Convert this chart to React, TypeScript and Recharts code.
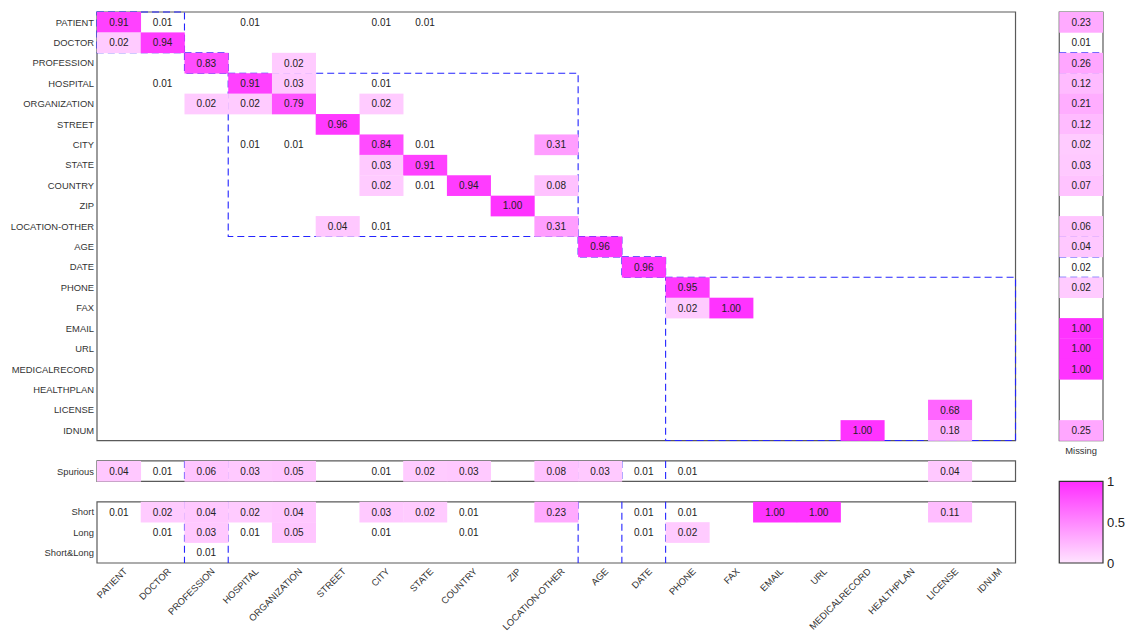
import React from 'react';
import { ScatterChart, Scatter, XAxis, YAxis, ReferenceArea, ReferenceLine, ReferenceDot } from 'recharts';

const categories = ['PATIENT', 'DOCTOR', 'PROFESSION', 'HOSPITAL', 'ORGANIZATION', 'STREET', 'CITY', 'STATE', 'COUNTRY', 'ZIP', 'LOCATION-OTHER', 'AGE', 'DATE', 'PHONE', 'FAX', 'EMAIL', 'URL', 'MEDICALRECORD', 'HEALTHPLAN', 'LICENSE', 'IDNUM'];

// [true category, predicted category, fraction]
const confusion: [string, string, number][] = [
  ['PATIENT', 'PATIENT', 0.91], ['PATIENT', 'DOCTOR', 0.01], ['PATIENT', 'HOSPITAL', 0.01], ['PATIENT', 'CITY', 0.01], ['PATIENT', 'STATE', 0.01],
  ['DOCTOR', 'PATIENT', 0.02], ['DOCTOR', 'DOCTOR', 0.94],
  ['PROFESSION', 'PROFESSION', 0.83], ['PROFESSION', 'ORGANIZATION', 0.02],
  ['HOSPITAL', 'DOCTOR', 0.01], ['HOSPITAL', 'HOSPITAL', 0.91], ['HOSPITAL', 'ORGANIZATION', 0.03], ['HOSPITAL', 'CITY', 0.01],
  ['ORGANIZATION', 'PROFESSION', 0.02], ['ORGANIZATION', 'HOSPITAL', 0.02], ['ORGANIZATION', 'ORGANIZATION', 0.79], ['ORGANIZATION', 'CITY', 0.02],
  ['STREET', 'STREET', 0.96],
  ['CITY', 'HOSPITAL', 0.01], ['CITY', 'ORGANIZATION', 0.01], ['CITY', 'CITY', 0.84], ['CITY', 'STATE', 0.01], ['CITY', 'LOCATION-OTHER', 0.31],
  ['STATE', 'CITY', 0.03], ['STATE', 'STATE', 0.91],
  ['COUNTRY', 'CITY', 0.02], ['COUNTRY', 'STATE', 0.01], ['COUNTRY', 'COUNTRY', 0.94], ['COUNTRY', 'LOCATION-OTHER', 0.08],
  ['ZIP', 'ZIP', 1.0],
  ['LOCATION-OTHER', 'STREET', 0.04], ['LOCATION-OTHER', 'CITY', 0.01], ['LOCATION-OTHER', 'LOCATION-OTHER', 0.31],
  ['AGE', 'AGE', 0.96],
  ['DATE', 'DATE', 0.96],
  ['PHONE', 'PHONE', 0.95],
  ['FAX', 'PHONE', 0.02], ['FAX', 'FAX', 1.0],
  ['LICENSE', 'LICENSE', 0.68],
  ['IDNUM', 'MEDICALRECORD', 1.0], ['IDNUM', 'LICENSE', 0.18],
];

const missing = [0.23, 0.01, 0.26, 0.12, 0.21, 0.12, 0.02, 0.03, 0.07, 0, 0.06, 0.04, 0.0155, 0.02, 0, 1.0, 1.0, 1.0, 0, 0, 0.25];
const spurious = [0.04, 0.01, 0.06, 0.03, 0.05, 0, 0.01, 0.02, 0.03, 0, 0.08, 0.03, 0.01, 0.01, 0, 0, 0, 0, 0, 0.04, 0];
const shortMatch = [0.01, 0.02, 0.04, 0.02, 0.04, 0, 0.03, 0.02, 0.01, 0, 0.23, 0, 0.01, 0.01, 0, 1.0, 1.0, 0, 0, 0.11, 0];
const longMatch = [0, 0.01, 0.03, 0.01, 0.05, 0, 0.01, 0, 0.01, 0, 0, 0, 0.01, 0.02, 0, 0, 0, 0, 0, 0, 0];
const shortLongMatch = [0, 0, 0.01, 0, 0, 0, 0, 0, 0, 0, 0, 0, 0, 0, 0, 0, 0, 0, 0, 0, 0];

const blockSizes = [2, 1, 8, 1, 1, 8];
const colorbarTicks = [0, 0.5, 1];
const bottomRowLabels = ['Spurious', 'Short', 'Long', 'Short&Long'];

// layout (grid units)
const N = categories.length; // 21
const MISSING_X = N + 1.5;
const SPUR_Y = N + 1.5;
const SHORT_Y = N + 3.5;
const Y_MAX = N + 6;
const X_MAX = N + 2;

const W = 1134;
const H = 635;
const M = { top: 12, right: 31, left: 0, bottom: 0 };
const YAXIS_W = 97;
const XAXIS_H = 72;
const CELL_W = (W - M.right - YAXIS_W) / X_MAX;
const CELL_H = (H - M.top - XAXIS_H) / Y_MAX;

const BLUE = '#2424ff';
const FRAME = '#5a5a5a';
const FONT = '"Liberation Sans", Arial, Helvetica, sans-serif';

function cellColor(v: number) {
  if (v < 1 / 64) return null;
  const g = Math.round(206 - 155 * v);
  return `rgb(255,${g},255)`;
}

type Pt = { x: number; y: number; v: number };

const mainData: Pt[] = confusion.map(([r, c, v]) => ({ x: categories.indexOf(c) + 0.5, y: categories.indexOf(r) + 0.5, v }));
const missingData: Pt[] = missing.map((v, i) => ({ x: MISSING_X, y: i + 0.5, v })).filter((d) => d.v > 0);
const rowData = (arr: number[], y: number): Pt[] => arr.map((v, i) => ({ x: i + 0.5, y, v })).filter((d) => d.v > 0);
const spuriousData = rowData(spurious, SPUR_Y);
const shortData = [...rowData(shortMatch, SHORT_Y), ...rowData(longMatch, SHORT_Y + 1), ...rowData(shortLongMatch, SHORT_Y + 2)];

const blocks: [number, number][] = [];
{
  let s = 0;
  for (const b of blockSizes) {
    blocks.push([s, s + b]);
    s += b;
  }
}

const CellShape = (props: any) => {
  const { cx, cy, payload } = props;
  if (cx == null || cy == null || !payload) return null;
  const fill = cellColor(payload.v);
  return (
    <g>
      {fill && <rect x={cx - CELL_W / 2} y={cy - CELL_H / 2} width={CELL_W + 0.3} height={CELL_H + 0.3} fill={fill} />}
      <text x={cx} y={cy} dy="0.36em" textAnchor="middle" fontSize={10} fill="#222" fontFamily={FONT}>
        {payload.v.toFixed(2)}
      </text>
    </g>
  );
};

const yTicks = [...categories.map((_, i) => i + 0.5), SPUR_Y, SHORT_Y, SHORT_Y + 1, SHORT_Y + 2];
const yLabel = (v: number) => {
  if (v < N) return categories[Math.floor(v)];
  if (v === SPUR_Y) return bottomRowLabels[0];
  return bottomRowLabels[1 + Math.round(v - SHORT_Y)];
};

const XTick = (props: any) => {
  const { x, y, payload } = props;
  const label = categories[Math.floor(payload.value)];
  const px = x + 9;
  const py = y + 9;
  return (
    <text x={px} y={py} transform={`rotate(-45, ${px}, ${py})`} textAnchor="end" fontSize={9.4} fill="#333" fontFamily={FONT}>
      {label}
    </text>
  );
};

const YTick = (props: any) => {
  const { x, y, payload } = props;
  return (
    <text x={x} y={y} dy="0.36em" textAnchor="end" fontSize={9.4} fill="#333" fontFamily={FONT}>
      {yLabel(payload.value)}
    </text>
  );
};

export default function App() {
  const interior = blocks.slice(1).map((b) => b[0]);
  return (
    <div style={{ position: 'absolute', left: 0, top: 0, width: W, height: H, background: '#fff', fontFamily: FONT }}>
      <ScatterChart width={W} height={H} margin={M}>
        <defs>
          <linearGradient id="cbGrad" x1="0" y1="1" x2="0" y2="0">
            <stop offset="0%" stopColor="rgb(255,228,255)" />
            <stop offset="100%" stopColor="rgb(255,44,255)" />
          </linearGradient>
        </defs>
        <XAxis
          type="number"
          dataKey="x"
          domain={[0, X_MAX]}
          ticks={categories.map((_, i) => i + 0.5)}
          interval={0}
          axisLine={false}
          tickLine={false}
          tickSize={0}
          tickMargin={0}
          height={XAXIS_H}
          tick={<XTick />}
          allowDataOverflow
        />
        <YAxis
          type="number"
          dataKey="y"
          domain={[0, Y_MAX]}
          reversed
          ticks={yTicks}
          interval={0}
          axisLine={false}
          tickLine={false}
          tickSize={0}
          tickMargin={3}
          width={YAXIS_W}
          tick={<YTick />}
          allowDataOverflow
        />
        <ReferenceArea x1={22} x2={23} y1={23} y2={27} fill="url(#cbGrad)" fillOpacity={1} stroke="none" />
        <Scatter data={mainData} shape={<CellShape />} isAnimationActive={false} />
        <Scatter data={missingData} shape={<CellShape />} isAnimationActive={false} />
        <Scatter data={spuriousData} shape={<CellShape />} isAnimationActive={false} />
        <Scatter data={shortData} shape={<CellShape />} isAnimationActive={false} />

        {/* frames */}
        <ReferenceArea x1={0} x2={N} y1={0} y2={N} fill="none" stroke={FRAME} strokeWidth={1.2} />
        <ReferenceArea x1={N + 1} x2={N + 2} y1={0} y2={N} fill="none" stroke={FRAME} strokeWidth={1.2} />
        <ReferenceArea x1={0} x2={N} y1={N + 1} y2={N + 2} fill="none" stroke={FRAME} strokeWidth={1.2} />
        <ReferenceArea x1={0} x2={N} y1={N + 3} y2={N + 6} fill="none" stroke={FRAME} strokeWidth={1.2} />
        <ReferenceArea x1={N + 1} x2={N + 2} y1={N + 2} y2={N + 6} fill="none" stroke="#333" strokeWidth={1.2} />

        {/* block boxes */}
        {blocks.map(([s, e], i) => (
          <ReferenceArea key={`b${i}`} x1={s} x2={e} y1={s} y2={e} fill="none" stroke={BLUE} strokeWidth={1.1} strokeDasharray="7 4" />
        ))}
        {interior.map((b, i) => (
          <ReferenceLine key={`m${i}`} segment={[{ x: N + 1, y: b }, { x: N + 2, y: b }]} stroke={BLUE} strokeWidth={1.1} strokeDasharray="7 4" />
        ))}
        {interior.map((b, i) => (
          <ReferenceLine key={`s${i}`} segment={[{ x: b, y: N + 1 }, { x: b, y: N + 2 }]} stroke={BLUE} strokeWidth={1.1} strokeDasharray="7 4" />
        ))}
        {interior.map((b, i) => (
          <ReferenceLine key={`l${i}`} segment={[{ x: b, y: N + 3 }, { x: b, y: N + 6 }]} stroke={BLUE} strokeWidth={1.1} strokeDasharray="7 4" />
        ))}

        <ReferenceDot x={MISSING_X} y={N + 0.5} r={0} stroke="none" fill="none" label={{ value: 'Missing', position: 'center', fontSize: 9.4, fill: '#333' }} />
        {colorbarTicks.map((t) => (
          <ReferenceDot key={`cb${t}`} x={N + 2} y={N + 6 - 4 * t} r={0} stroke="none" fill="none" label={{ value: String(t), position: 'right', offset: 4, fontSize: 13, fill: '#222' }} />
        ))}
      </ScatterChart>
    </div>
  );
}
